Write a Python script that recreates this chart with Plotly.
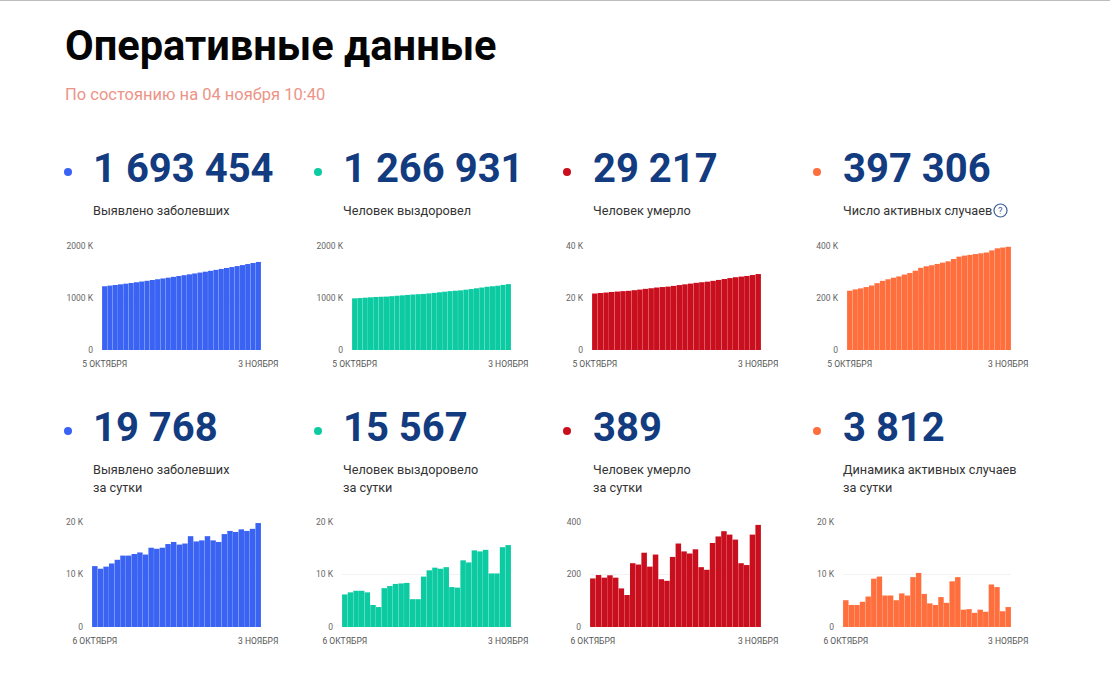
import plotly.graph_objects as go

W, H = 1110, 680
BLUE, TEAL, RED, ORANGE = "#3A63F4", "#0CCBA2", "#C90F1E", "#FF6E3D"
NAVY = "#123B80"

days = list(range(1, 31))

total_cases = [1226,1238,1250,1263,1276,1289,1303,1317,1331,1346,1361,1376,1391,1407,1423,1439,1455,1472,1489,1506,1523,1541,1559,1577,1595,1614,1633,1653,1673,1693]
total_recovered = [993,999,1006,1013,1019,1024,1027,1035,1043,1051,1059,1067,1073,1078,1088,1098,1110,1121,1132,1140,1147,1160,1172,1187,1201,1216,1226,1236,1252,1267]
total_deaths = [21719,21917,22105,22302,22490,22637,22759,23002,23240,23523,23753,24029,24211,24387,24654,24972,25260,25540,25836,26064,26282,26602,26947,27312,27664,27997,28240,28476,28828,29217]
total_active = [228,233,237,242,248,257,266,272,278,283,290,296,305,316,322,326,331,336,341,350,359,363,366,369,372,375,383,391,394,397]

daily_cases = [11.6,11.1,11.5,12.1,12.8,13.6,13.6,13.9,14.2,13.8,15.1,14.9,15.1,15.8,16.2,15.7,15.9,17.3,16.3,16.5,17.3,16.5,16.2,17.7,18.3,18.1,18.6,18.3,18.7,19.8]
daily_recovered = [6.2,6.6,6.9,6.9,6.6,4.2,3.8,7.4,7.8,8.2,8.3,8.4,5.3,5.3,9.6,10.8,11.3,11.1,11.4,7.6,7.5,12.7,12.3,14.6,14.4,14.7,10.2,10.2,15.2,15.6]
daily_deaths = [185,198,188,197,188,147,122,243,238,283,230,276,182,176,267,318,288,280,296,228,218,320,345,365,352,333,243,236,352,389]
daily_active = [5.1,4.2,4.2,4.8,5.8,9.2,9.6,6.0,6.0,5.1,6.4,6.0,9.5,10.3,6.3,4.5,4.2,5.7,4.6,8.7,9.5,3.3,3.4,2.7,3.3,2.9,8.1,7.6,3.0,3.8]

headline_numbers = ["1 693 454","1 266 931","29 217","397 306","19 768","15 567","389","3 812"]
top_labels = ["Выявлено заболевших","Человек выздоровел","Человек умерло","Число активных случаев"]
bottom_labels = [("Выявлено заболевших","за сутки"),("Человек выздоровело","за сутки"),("Человек умерло","за сутки"),("Динамика активных случаев","за сутки")]
top_dates = ["5 ОКТЯБРЯ","3 НОЯБРЯ"]
bottom_dates = ["6 ОКТЯБРЯ","3 НОЯБРЯ"]

panels = [
 (total_cases, BLUE, 102, 261, 246, 350, [0,1000,2000], ["0","1000 K","2000 K"], top_dates),
 (total_recovered, TEAL, 352, 511, 246, 350, [0,1000,2000], ["0","1000 K","2000 K"], top_dates),
 (total_deaths, RED, 592, 761, 246, 350, [0,20000,40000], ["0","20 K","40 K"], top_dates),
 (total_active, ORANGE, 847, 1011, 246, 350, [0,200,400], ["0","200 K","400 K"], top_dates),
 (daily_cases, BLUE, 92, 261, 522, 627, [0,10,20], ["0","10 K","20 K"], bottom_dates),
 (daily_recovered, TEAL, 342, 511, 522, 627, [0,10,20], ["0","10 K","20 K"], bottom_dates),
 (daily_deaths, RED, 590, 761, 522, 627, [0,200,400], ["0","200","400"], bottom_dates),
 (daily_active, ORANGE, 843, 1011, 522, 627, [0,10,20], ["0","10 K","20 K"], bottom_dates),
]

fig = go.Figure()
layout = {}
for i, (vals, col, x0, x1, ytop, ybot, yt, ytt, dts) in enumerate(panels, 1):
    s = "" if i == 1 else str(i)
    fig.add_trace(go.Bar(x=days, y=vals, marker=dict(color=col, line=dict(width=0)),
                         xaxis="x"+s, yaxis="y"+s, showlegend=False, hoverinfo="skip"))
    layout["xaxis"+s] = dict(domain=[x0/W, x1/W], anchor="y"+s, range=[0.5, 30.5], automargin=False,
        tickmode="array", tickvals=[days[0], days[-1]], ticktext=dts, showgrid=False,
        zeroline=False, showline=False, ticks="", tickangle=0, ticklabelstandoff=7,
        tickfont=dict(family="Roboto", size=8.5, color="#555"))
    layout["yaxis"+s] = dict(domain=[1-ybot/H, 1-ytop/H], anchor="x"+s, range=[yt[0], yt[-1]], automargin=False,
        tickmode="array", tickvals=yt, ticktext=ytt, showgrid=True, gridcolor="#F2F2F2", gridwidth=1,
        zeroline=False, showline=False, ticks="", ticklabelstandoff=8,
        tickfont=dict(family="Roboto", size=8.5, color="#666"))

def txt(x, y, s, size, color, bold=False):
    return dict(x=x/W, y=1-y/H, xref="paper", yref="paper", xanchor="left", yanchor="middle",
                text=f"<b>{s}</b>" if bold else s, showarrow=False,
                font=dict(family="Roboto", size=size, color=color), align="left")

ann = [txt(63, 46, "Оперативные данные", 41.6, "#050505", True),
       txt(63, 95, "По состоянию на 04 ноября 10:40", 16.5, "#EC9488")]
colx = [91, 341, 591, 841]
dotx = [68, 318, 567, 817]
cols = [BLUE, TEAL, RED, ORANGE]
shapes = [dict(type="rect", xref="paper", yref="paper", x0=0, x1=1, y0=1-1/H, y1=1,
               line=dict(width=0), fillcolor="#BDBDBD")]
for c in range(4):
    ann.append(txt(colx[c], 168, headline_numbers[c], 40, NAVY, True))
    ann.append(txt(colx[c], 427, headline_numbers[c+4], 40, NAVY, True))
    ann.append(txt(colx[c], 210, top_labels[c], 12.7, "#333333"))
    ann.append(txt(colx[c], 469, bottom_labels[c][0], 12.7, "#333333"))
    ann.append(txt(colx[c], 487, bottom_labels[c][1], 12.7, "#333333"))
    for yc in (172, 431):
        shapes.append(dict(type="circle", xref="paper", yref="paper", line=dict(width=0), fillcolor=cols[c],
            x0=(dotx[c]-4)/W, x1=(dotx[c]+4)/W, y0=1-(yc+4)/H, y1=1-(yc-4)/H))
shapes.append(dict(type="circle", xref="paper", yref="paper", line=dict(width=1.2, color="#3D5F96"), fillcolor="white",
    x0=994/W, x1=1007/W, y0=1-217/H, y1=1-204/H))
ann.append(dict(x=1000.5/W, y=1-210.5/H, xref="paper", yref="paper", text="?", showarrow=False,
                xanchor="center", yanchor="middle",
                font=dict(family="Roboto", size=9.5, color="#3D5F96")))

fig.update_layout(width=W, height=H, margin=dict(l=0, r=0, t=0, b=0, autoexpand=False), paper_bgcolor="white", plot_bgcolor="white",
                  bargap=0.03, hovermode=False, annotations=ann, shapes=shapes, **layout)
fig.write_html("out.html", config={"displayModeBar": False},
               post_script="document.body.style.margin='0';")
